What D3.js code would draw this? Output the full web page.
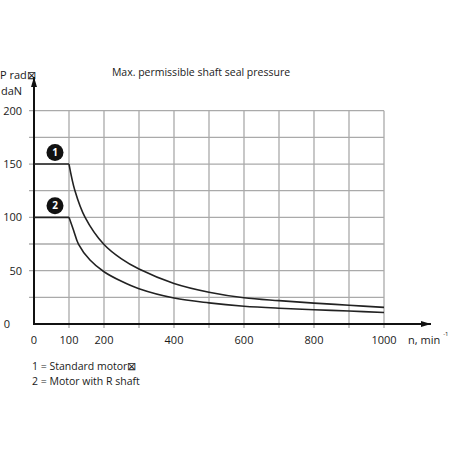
<!DOCTYPE html>
<html><head><meta charset="utf-8">
<script src="https://cdn.jsdelivr.net/npm/d3@7"></script>
<style>body{margin:0;background:#fff}text{font-family:"Open Sans",sans-serif;fill:#1a1a1a}</style>
</head><body><svg id="c" width="452" height="452"></svg>
<script>
const title = "Max. permissible shaft seal pressure";
const xTickLabels = [0, 100, 200, 400, 600, 800, 1000];
const xGrid = [100, 200, 300, 400, 500, 600, 700, 800, 900, 1000];
const yTickLabels = [0, 50, 100, 150, 200];
const yGrid = [25, 50, 75, 100, 125, 150, 175, 200];
const n1 = [0, 100, 117, 146, 200, 250, 300, 400, 500, 600, 700, 800, 900, 1000];
const p1 = [150, 150, 125, 100, 74.5, 61, 51.5, 38, 29.8, 24.6, 21.9, 19.6, 17.6, 15.6];
const n2 = [0, 100, 113, 127, 160, 200, 250, 300, 400, 500, 600, 700, 800, 900, 1000];
const p2 = [100, 100, 88, 75, 60, 49, 40, 33, 24.3, 19.8, 16.7, 14.8, 13.4, 12.2, 10.8];
const legend = ["1 = Standard motor\u22A0", "2 = Motor with R shaft"];

const svg = d3.select("#c");
const x = d3.scaleLinear().domain([0, 1000]).range([34, 384]);
const y = d3.scaleLinear().domain([0, 200]).range([324, 110.7]);

// grid
svg.append("g").selectAll("line").data(xGrid).join("line")
  .attr("x1", d => x(d)).attr("x2", d => x(d)).attr("y1", y(200)).attr("y2", y(0) + 4)
  .attr("stroke", "#aaa").attr("stroke-width", 1.3);
svg.append("g").selectAll("line").data(yGrid).join("line")
  .attr("x1", x(0) - 5).attr("x2", x(1000)).attr("y1", d => y(d)).attr("y2", d => y(d))
  .attr("stroke", "#aaa").attr("stroke-width", 1.3);

// axes with arrows
svg.append("defs").append("marker").attr("id", "arr").attr("viewBox", "0 0 10 6")
  .attr("refX", 10).attr("refY", 3).attr("markerWidth", 11).attr("markerHeight", 6)
  .attr("markerUnits", "userSpaceOnUse").attr("orient", "auto")
  .append("path").attr("d", "M0,0L10,3L0,6Z").attr("fill", "#111");
svg.append("line").attr("x1", x(0)).attr("x2", x(0)).attr("y1", y(0) + 1).attr("y2", 77)
  .attr("stroke", "#111").attr("stroke-width", 2).attr("marker-end", "url(#arr)");
svg.append("line").attr("x1", x(0) - 1).attr("x2", 431).attr("y1", y(0)).attr("y2", y(0))
  .attr("stroke", "#111").attr("stroke-width", 2).attr("marker-end", "url(#arr)");

// curves
const series = [[n1, p1], [n2, p2]];
series.forEach(([ns, ps]) => {
  const pts = ns.map((n, i) => [n, ps[i]]);
  svg.append("path").datum(pts.slice(0, 2))
    .attr("d", d3.line().x(d => x(d[0])).y(d => y(d[1])))
    .attr("fill", "none").attr("stroke", "#222").attr("stroke-width", 1.6);
  svg.append("path").datum(pts.slice(1))
    .attr("d", d3.line().x(d => x(d[0])).y(d => y(d[1])).curve(d3.curveCatmullRom.alpha(0.5)))
    .attr("fill", "none").attr("stroke", "#222").attr("stroke-width", 1.6);
});

// markers 1, 2
[[150, "1"], [100, "2"]].forEach(([v, t]) => {
  const g = svg.append("g").attr("transform", `translate(${x(60)},${y(v) - 11.5})`);
  g.append("circle").attr("r", 8.5).attr("fill", "#111");
  g.append("text").text(t).attr("text-anchor", "middle").attr("dy", "0.36em")
    .style("fill", "#fff").attr("font-size", 10).attr("font-weight", 700);
});

// tick labels
svg.append("g").selectAll("text").data(xTickLabels).join("text")
  .attr("x", d => x(d)).attr("y", 344).attr("text-anchor", "middle")
  .attr("font-size", 11).text(d => d);
svg.append("g").selectAll("text").data(yTickLabels).join("text")
  .attr("x", d => d === 0 ? 7 : 22).attr("y", d => y(d) + 4)
  .attr("text-anchor", d => d === 0 ? "middle" : "end")
  .attr("font-size", 11).text(d => d);

// axis titles
svg.append("text").attr("x", 0).attr("y", 79).attr("font-size", 11).text("P rad\u22A0");
svg.append("text").attr("x", 1).attr("y", 95).attr("font-size", 11).text("daN");
const xt = svg.append("text").attr("x", 408).attr("y", 344).attr("font-size", 11);
xt.append("tspan").text("n, min");
xt.append("tspan").attr("dx", 3).attr("dy", -8).attr("font-size", 6).text("-1");

// title
svg.append("text").attr("x", 201).attr("y", 76).attr("text-anchor", "middle")
  .attr("font-size", 10.5).text(title);

// legend
svg.append("g").selectAll("text").data(legend).join("text")
  .attr("x", 32).attr("y", (d, i) => 370 + i * 15).attr("font-size", 10.5).text(d => d);
</script></body></html>
